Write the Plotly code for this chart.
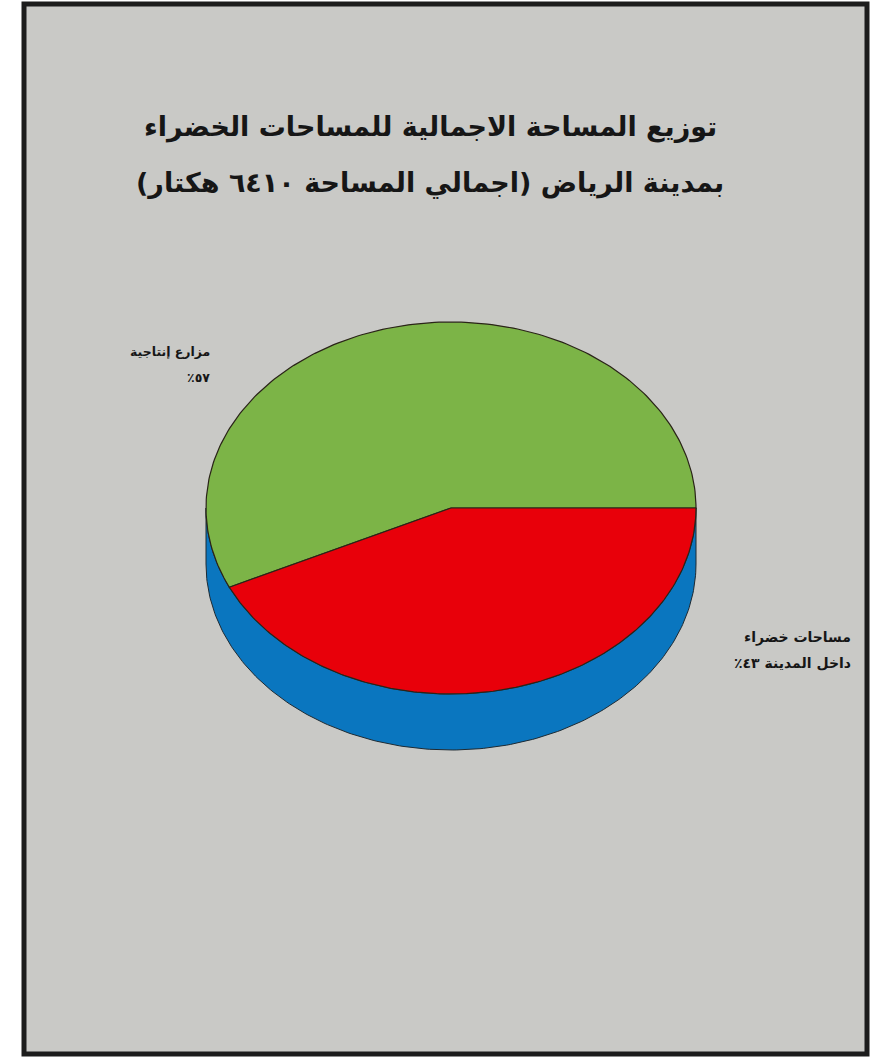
import numpy as np
import plotly.graph_objects as go

# ---- data ----
categories = ["مزارع إنتاجية", "مساحات خضراء داخل المدينة"]
shares = [57, 43]
slice_colors = ["#7cb447", "#e8000a"]
side_color = "#0a76bf"
title_lines = ["توزيع المساحة الاجمالية للمساحات الخضراء",
               "بمدينة الرياض (اجمالي المساحة ٦٤١٠ هكتار)"]
label_lines = [["مزارع إنتاجية", "٥٧٪"],
               ["مساحات خضراء", "داخل المدينة ٤٣٪"]]

RLM = "\u200f"

# ---- geometry (layout) ----
W, H = 888, 1060
cx, cy = 451, 508
rx, ry = 245, 186
depth = 56


def arc(t0, t1, dy=0, n=200):
    t = np.radians(np.linspace(t0, t1, n))
    return cx + rx * np.cos(t), cy - ry * np.sin(t) + dy


fig = go.Figure()

# side band (lower half)
xb, yb = arc(180, 360, depth)
xt, yt = arc(360, 180, 0)
fig.add_trace(go.Scatter(x=np.concatenate([xb, xt, xb[:1]]),
                         y=np.concatenate([yb, yt, yb[:1]]),
                         mode="lines", fill="toself", fillcolor=side_color,
                         line=dict(color="#1d2a33", width=1),
                         hoverinfo="skip", showlegend=False))

# top face slices, angles derived from the shares
total = sum(shares)
start = 0.0
for cat, val, col in zip(categories, shares, slice_colors):
    end = start + 360.0 * val / total
    xs, ys = arc(start, end)
    fig.add_trace(go.Scatter(x=np.concatenate([[cx], xs, [cx]]),
                             y=np.concatenate([[cy], ys, [cy]]),
                             mode="lines", fill="toself", fillcolor=col,
                             line=dict(color="#2a2418", width=1.2),
                             name=cat, hoverinfo="name", showlegend=False))
    start = end

font_ar = "DejaVu Sans"


def rtl(s):
    return "<b>" + RLM + s + RLM + "</b>"


annotations = []
for i, line in enumerate(title_lines):
    annotations.append(dict(x=430, y=127 + i * 56, xref="x", yref="y",
                            text=rtl(line), showarrow=False,
                            font=dict(family=font_ar, size=27, color="#161616")))

# slice labels (right-aligned, one annotation per line)
label_pos = [(212, 351, 12.5), (853, 637, 14)]
for (lx, ly, fs), lines in zip(label_pos, label_lines):
    for j, line in enumerate(lines):
        annotations.append(dict(x=lx, y=ly + j * 26, xref="x", yref="y",
                                xanchor="right", text=rtl(line), showarrow=False,
                                font=dict(family=font_ar, size=fs, color="#161616")))

fig.update_layout(
    width=W, height=H,
    margin=dict(l=0, r=0, t=0, b=0),
    paper_bgcolor="white",
    plot_bgcolor="rgba(0,0,0,0)",
    xaxis=dict(range=[0, W], visible=False, fixedrange=True),
    yaxis=dict(range=[H, 0], visible=False, fixedrange=True),
    annotations=annotations,
    shapes=[dict(type="rect", xref="x", yref="y", x0=24, y0=4, x1=867, y1=1054,
                 fillcolor="#c9c9c6", line=dict(color="#1c1c1c", width=5),
                 layer="below")],
)

fig.write_html("out.html")
